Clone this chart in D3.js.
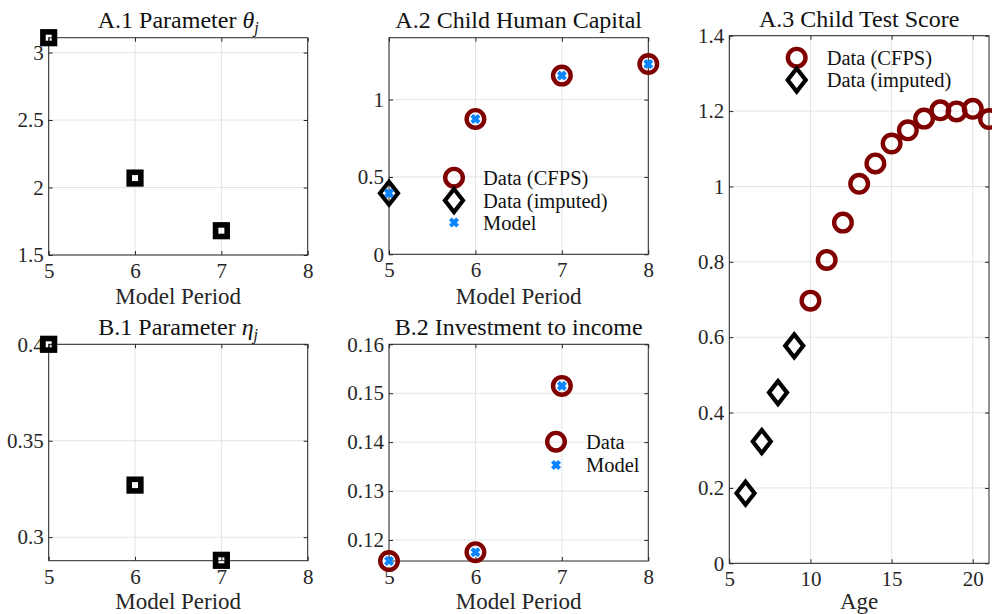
<!DOCTYPE html>
<html>
<head>
<meta charset="utf-8">
<script src="https://cdn.jsdelivr.net/npm/d3@7"></script>
<style>
  html, body { margin: 0; padding: 0; background: #fff; }
  svg { display: block; }
  svg text { font-family: "Liberation Serif", "Tinos", "Times New Roman", "DejaVu Serif", serif; }
</style>
</head>
<body>
<svg id="fig" width="992" height="614"></svg>
<script>
// ---- data ----
const periods = [5, 6, 7, 8];
const thetaPeriods = [5, 6, 7];
const thetaValues = [3.11, 2.07, 1.68];
const etaPeriods = [5, 6, 7];
const etaValues = [0.400, 0.327, 0.288];

const hcCfpsPeriods = [6, 7, 8];
const hcCfpsValues = [0.875, 1.155, 1.23];
const hcImputedPeriods = [5];
const hcImputedValues = [0.395];
const hcModelPeriods = [5, 6, 7, 8];
const hcModelValues = [0.395, 0.875, 1.155, 1.23];

const invDataPeriods = [5, 6, 7];
const invDataValues = [0.1157, 0.1175, 0.1515];
const invModelPeriods = [5, 6, 7];
const invModelValues = [0.1157, 0.1175, 0.1515];

const scoreImputedAges = [6, 7, 8, 9];
const scoreImputedValues = [0.186, 0.323, 0.453, 0.577];
const scoreCfpsAges = [10, 11, 12, 13, 14, 15, 16, 17, 18, 19, 20, 21];
const scoreCfpsValues = [0.697, 0.805, 0.904, 1.007, 1.061, 1.114, 1.149, 1.180, 1.202, 1.199, 1.206, 1.179];

const periodTicks = [5, 6, 7, 8];
const thetaTicks = [1.5, 2, 2.5, 3];
const hcTicks = [0, 0.5, 1];
const etaTicks = [0.3, 0.35, 0.4];
const invTicks = [0.12, 0.13, 0.14, 0.15, 0.16];
const ageTicks = [5, 10, 15, 20];
const scoreTicks = [0, 0.2, 0.4, 0.6, 0.8, 1, 1.2, 1.4];

// ---- style ----
const AXIS = "#262626", GRID = "#e3e3e3", RED = "#800000", BLUE = "#0a84ff";
const svg = d3.select("#fig");

const fmt = d => String(+d.toFixed(4));

function panel(opt) {
  const x = d3.scaleLinear().domain(opt.xd).range([opt.x0, opt.x1]);
  const y = d3.scaleLinear().domain(opt.yd).range([opt.y1, opt.y0]);
  const g = svg.append("g");

  // grid
  g.append("g").selectAll("line").data(opt.xt).join("line")
    .attr("x1", d => x(d)).attr("x2", d => x(d)).attr("y1", opt.y0).attr("y2", opt.y1)
    .attr("stroke", GRID).attr("stroke-width", 1);
  g.append("g").selectAll("line").data(opt.yt).join("line")
    .attr("y1", d => y(d)).attr("y2", d => y(d)).attr("x1", opt.x0).attr("x2", opt.x1)
    .attr("stroke", GRID).attr("stroke-width", 1);

  const styleAxis = (sel, hideText) => {
    sel.attr("font-family", null).attr("font-size", null);
    sel.select(".domain").remove();
    sel.selectAll(".tick line").attr("stroke", AXIS).attr("stroke-width", 1);
    sel.selectAll(".tick text").attr("fill", AXIS).style("font-size", "21px");
    if (hideText) sel.selectAll(".tick text").remove();
  };

  // axes with inward ticks
  g.append("g").attr("transform", `translate(0,${opt.y1})`)
    .call(d3.axisBottom(x).tickValues(opt.xt).tickFormat(fmt).tickSizeInner(-4).tickSizeOuter(0).tickPadding(8))
    .call(s => styleAxis(s, false));
  g.append("g").attr("transform", `translate(0,${opt.y0})`)
    .call(d3.axisTop(x).tickValues(opt.xt).tickSizeInner(-4).tickSizeOuter(0))
    .call(s => styleAxis(s, true));
  g.append("g").attr("transform", `translate(${opt.x0},0)`)
    .call(d3.axisLeft(y).tickValues(opt.yt).tickFormat(fmt).tickSizeInner(-4).tickSizeOuter(0).tickPadding(5))
    .call(s => styleAxis(s, false));
  g.append("g").attr("transform", `translate(${opt.x1},0)`)
    .call(d3.axisRight(y).tickValues(opt.yt).tickSizeInner(-4).tickSizeOuter(0))
    .call(s => styleAxis(s, true));

  // box
  g.append("rect").attr("x", opt.x0).attr("y", opt.y0)
    .attr("width", opt.x1 - opt.x0).attr("height", opt.y1 - opt.y0)
    .attr("fill", "none").attr("stroke", AXIS).attr("stroke-width", 1);

  // title
  const t = g.append("text").attr("x", (opt.x0 + opt.x1) / 2).attr("y", opt.titleY)
    .attr("text-anchor", "middle").attr("fill", "#111").style("font-size", "24px");
  opt.title(t);

  // x label
  g.append("text").attr("x", (opt.x0 + opt.x1) / 2).attr("y", opt.xlabelY)
    .attr("text-anchor", "middle").attr("fill", AXIS).style("font-size", "23px")
    .text(opt.xlabel);

  return { g, x, y };
}

// marker painters
function squares(p, xs, ys) {
  p.g.append("g").selectAll("rect").data(xs).join("rect")
    .attr("x", (d) => p.x(d) - 5.8).attr("y", (d, i) => p.y(ys[i]) - 5.8)
    .attr("width", 11.6).attr("height", 11.6)
    .attr("fill", "none").attr("stroke", "#000").attr("stroke-width", 5.6);
}
function circles(g, cx, cy) {
  g.append("circle").attr("cx", cx).attr("cy", cy).attr("r", 8.8)
    .attr("fill", "none").attr("stroke", RED).attr("stroke-width", 4.4);
}
function diamond(g, cx, cy) {
  g.append("path").attr("transform", `translate(${cx},${cy})`)
    .attr("d", "M0,-11.5L9,0L0,11.5L-9,0Z")
    .attr("fill", "none").attr("stroke", "#000").attr("stroke-width", 4.2)
    .attr("stroke-linejoin", "miter");
}
function cross(g, cx, cy) {
  g.append("path").attr("transform", `translate(${cx},${cy})`)
    .attr("d", "M-3.6,-3.6L3.6,3.6M-3.6,3.6L3.6,-3.6")
    .attr("fill", "none").attr("stroke", BLUE).attr("stroke-width", 4);
}
function legendText(g, x, y, s) {
  g.append("text").attr("x", x).attr("y", y).attr("dominant-baseline", "central")
    .attr("fill", "#111").style("font-size", "20.5px").text(s);
}
const mathTitle = (label, sym) => t => {
  t.append("tspan").text(label);
  t.append("tspan").style("font-style", "italic").text(sym);
  t.append("tspan").style("font-style", "italic").style("font-size", "16px")
    .attr("dy", 5).text("j");
};

// ---- A.1 ----
const a1 = panel({
  x0: 48.7, x1: 307.7, y0: 37.7, y1: 255, xd: [5, 8], yd: [1.5, 3.11],
  xt: periodTicks, yt: thetaTicks, titleY: 28, xlabelY: 304,
  xlabel: "Model Period", title: mathTitle("A.1 Parameter ", "θ")
});
squares(a1, thetaPeriods, thetaValues);

// ---- A.2 ----
const a2 = panel({
  x0: 389, x1: 648.3, y0: 37.7, y1: 254.3, xd: [5, 8], yd: [0, 1.4],
  xt: periodTicks, yt: hcTicks, titleY: 28, xlabelY: 304,
  xlabel: "Model Period", title: t => t.text("A.2 Child Human Capital")
});
hcCfpsPeriods.forEach((d, i) => circles(a2.g, a2.x(d), a2.y(hcCfpsValues[i])));
hcImputedPeriods.forEach((d, i) => diamond(a2.g, a2.x(d), a2.y(hcImputedValues[i])));
hcModelPeriods.forEach((d, i) => cross(a2.g, a2.x(d), a2.y(hcModelValues[i])));
// legend
circles(a2.g, 454, 177.7); legendText(a2.g, 483, 178, "Data (CFPS)");
diamond(a2.g, 454, 200.5); legendText(a2.g, 483, 200.5, "Data (imputed)");
cross(a2.g, 454, 222.5); legendText(a2.g, 483, 222.5, "Model");

// ---- B.1 ----
const b1 = panel({
  x0: 48.7, x1: 307.7, y0: 344.3, y1: 560.7, xd: [5, 8], yd: [0.2878, 0.4],
  xt: periodTicks, yt: etaTicks, titleY: 334.5, xlabelY: 608.5,
  xlabel: "Model Period", title: mathTitle("B.1 Parameter ", "η")
});
squares(b1, etaPeriods, etaValues);

// ---- B.2 ----
const b2 = panel({
  x0: 389, x1: 648.3, y0: 344.3, y1: 561, xd: [5, 8], yd: [0.1157, 0.16],
  xt: periodTicks, yt: invTicks, titleY: 334.5, xlabelY: 608.5,
  xlabel: "Model Period", title: t => t.text("B.2 Investment to income")
});
invDataPeriods.forEach((d, i) => circles(b2.g, b2.x(d), b2.y(invDataValues[i])));
invModelPeriods.forEach((d, i) => cross(b2.g, b2.x(d), b2.y(invModelValues[i])));
circles(b2.g, 556, 441.7); legendText(b2.g, 586, 441.7, "Data");
cross(b2.g, 556, 465); legendText(b2.g, 586, 465, "Model");

// ---- A.3 ----
const a3 = panel({
  x0: 729.3, x1: 989, y0: 35.7, y1: 563.3, xd: [5, 21], yd: [0, 1.4],
  xt: ageTicks, yt: scoreTicks, titleY: 26.7, xlabelY: 608.5,
  xlabel: "Age", title: t => t.text("A.3 Child Test Score")
});
scoreImputedAges.forEach((d, i) => diamond(a3.g, a3.x(d), a3.y(scoreImputedValues[i])));
scoreCfpsAges.forEach((d, i) => circles(a3.g, a3.x(d), a3.y(scoreCfpsValues[i])));
circles(a3.g, 796.7, 57.7); legendText(a3.g, 826.7, 57.7, "Data (CFPS)");
diamond(a3.g, 796.7, 80); legendText(a3.g, 826.7, 80, "Data (imputed)");
</script>
</body>
</html>
